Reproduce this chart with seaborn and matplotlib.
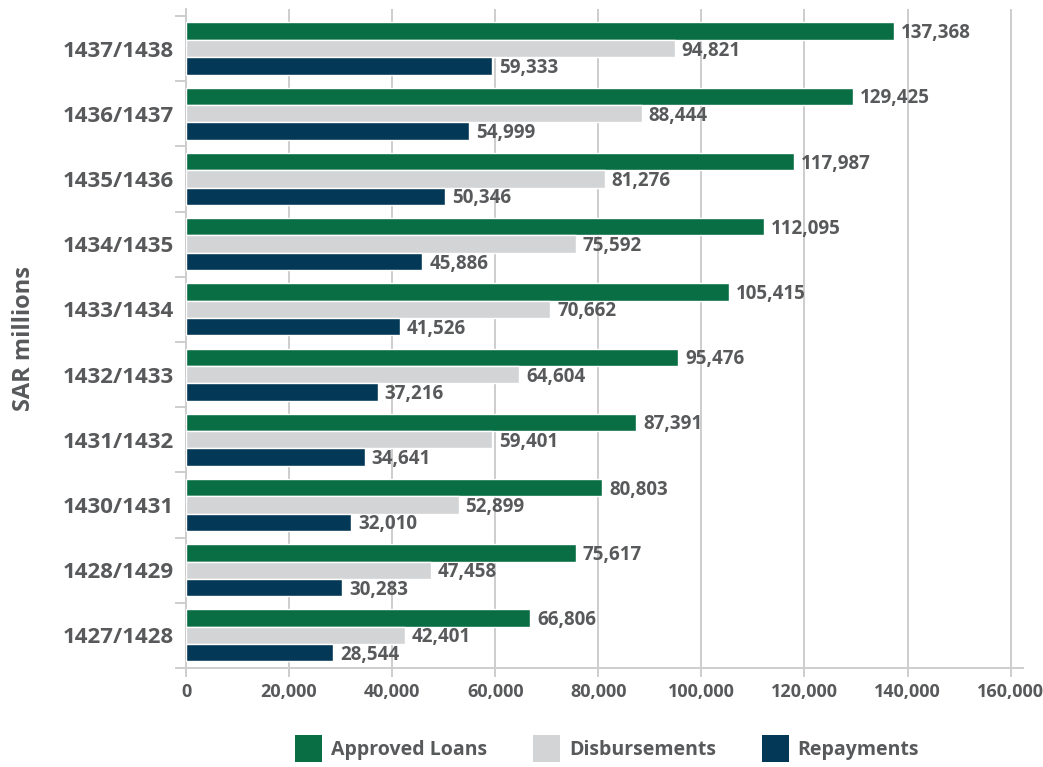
import matplotlib
matplotlib.use("Agg")
import matplotlib.pyplot as plt
from matplotlib.patches import Patch
from matplotlib.ticker import FixedLocator
import seaborn as sns
import pandas as pd

periods = ["1437/1438", "1436/1437", "1435/1436", "1434/1435", "1433/1434",
           "1432/1433", "1431/1432", "1430/1431", "1428/1429", "1427/1428"]
approved_loans = [137368, 129425, 117987, 112095, 105415, 95476, 87391, 80803, 75617, 66806]
disbursements = [94821, 88444, 81276, 75592, 70662, 64604, 59401, 52899, 47458, 42401]
repayments = [59333, 54999, 50346, 45886, 41526, 37216, 34641, 32010, 30283, 28544]
series_names = ["Approved Loans", "Disbursements", "Repayments"]
series_colors = ["#0A6E45", "#D3D4D6", "#033957"]
x_ticks = [0, 20000, 40000, 60000, 80000, 100000, 120000, 140000, 160000]

TEXT = "#58595B"
GRID = "#CDCDCD"

sns.set_theme(style="white")
plt.rcParams["font.family"] = ["Open Sans", "DejaVu Sans"]
plt.rcParams["font.weight"] = "bold"

rows = []
for name, vals in zip(series_names, [approved_loans, disbursements, repayments]):
    for p, v in zip(periods, vals):
        rows.append({"period": p, "value": v, "series": name})
df = pd.DataFrame(rows)

fig = plt.figure(figsize=(10.43, 7.67), dpi=100)
ax = fig.add_axes([186 / 1043, 1 - 668 / 767, (1023 - 186) / 1043, (668 - 9) / 767])

sns.barplot(data=df, y="period", x="value", hue="series", order=periods,
            hue_order=series_names, palette=series_colors, orient="h",
            width=0.8, saturation=1, legend=False, ax=ax, zorder=3)

for container in ax.containers:
    vals = [bar.get_width() for bar in container]
    anns = ax.bar_label(container, labels=[f"{v:,.0f}" for v in vals], padding=5,
                        fontsize=13.5, fontweight="bold", color=TEXT)
    for a in anns:
        a.xyann = (5, -1.5)

ax.set_xlim(0, 162400)
ax.set_ylim(len(periods) - 0.5, -0.607)

ax.set_xticks(x_ticks)
ax.set_xticklabels([f"{t:,}" for t in x_ticks])
ax.xaxis.grid(True, color=GRID, linewidth=1.4, zorder=0)
ax.yaxis.grid(False)
ax.tick_params(axis="x", which="major", length=6.5, width=1.4, color=GRID,
               labelsize=13, labelcolor=TEXT, pad=4, bottom=True)

# category labels at centres, tick marks at category boundaries
ax.set_yticks(range(len(periods)))
ax.set_yticklabels(periods)
ax.yaxis.set_minor_locator(FixedLocator([i - 0.5 for i in range(len(periods) + 1)]))
ax.tick_params(axis="y", which="major", length=0, labelsize=16, labelcolor=TEXT, pad=9)
ax.tick_params(axis="y", which="minor", length=8, width=1.4, color=GRID, left=True)

for side in ["top", "right"]:
    ax.spines[side].set_visible(False)
for side in ["left", "bottom"]:
    ax.spines[side].set_color(GRID)
    ax.spines[side].set_linewidth(1.4)

ax.set_xlabel("")
ax.set_ylabel("SAR millions", fontsize=17, fontweight="bold", color=TEXT)
ax.yaxis.set_label_coords(-150 / 837, 0.5)

handles = [Patch(facecolor=c, edgecolor="none", label=n) for n, c in zip(series_names, series_colors)]
fig.legend(handles=handles, loc="center", bbox_to_anchor=(607 / 1043, 1 - 748.5 / 767), ncol=3,
           frameon=False, handlelength=1.39, handleheight=1.76, handletextpad=0.46,
           columnspacing=2.36, prop={"weight": "bold", "size": 14},
           labelcolor=TEXT)

fig.savefig("out.png", dpi=100)
